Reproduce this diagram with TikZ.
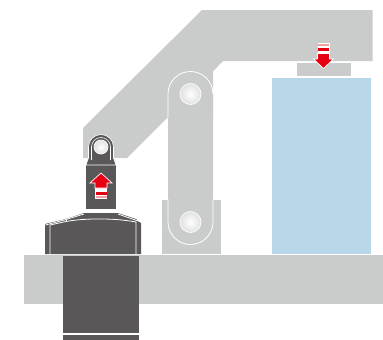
\documentclass[tikz,border=0pt]{standalone}
\usepackage{xcolor}
\usetikzlibrary{math}
\definecolor{mygray}{RGB}{202,204,203}
\definecolor{mydark}{RGB}{89,87,87}
\definecolor{myice}{RGB}{184,215,232}
\definecolor{myred}{RGB}{230,0,18}
\definecolor{mypink}{RGB}{244,160,160}
\tikzset{
pin/.style={draw=white,line width=0.7,inner color=white,outer color=mygray!60},
cut/.style={draw=white,line width=0.8},
}
\begin{document}
\begin{tikzpicture}[x=1pt,y=-1pt]
\tikzmath{
\Rlink=22.5;
\Rpin=10.5;
\xlink=190.5;
}
\useasboundingbox (0,0) rectangle (383,340);

% arm and table
\fill[color=mygray] (202,10) -- (372.5,10) -- (372.5,61) -- (223,61) -- (213,71.5) -- (213,117) -- (168,117) -- (127,158) -- (83,158) -- (83,128) -- cycle;
\fill[color=mygray] (24,255) rectangle (383,304);

% work
\fill[color=myice] (272,78) rectangle (371,254);
\filldraw[color=mygray,draw=white,line width=0.8] (296,62) rectangle (351,76.5);

% link and base
\filldraw[color=mygray,draw=white,line width=0.6] (161,199) rectangle (221,254);
\fill[color=mygray] (\xlink-\Rlink,94) arc (180:360:\Rlink) -- (\xlink+\Rlink,222) arc (0:180:\Rlink) -- cycle;
\draw[cut] (\xlink-\Rlink,117) -- (\xlink-\Rlink,94) arc (180:360:\Rlink);
\draw[cut] (\xlink-\Rlink,199) -- (\xlink-\Rlink,222) arc (180:0:\Rlink) -- (\xlink+\Rlink,199);
\draw[pin] (\xlink,94) circle (\Rpin);
\draw[pin] (\xlink,222) circle (\Rpin);

% cylinder
\fill[color=mydark] (63,256) rectangle (139,333);
\fill[color=mydark] (63,335) rectangle (139,340);
\fill[color=mydark] (45,254) -- (45,224) -- (66,219) -- (84,213) -- (118,213) -- (136,219) -- (141,223) -- (141,254) -- cycle;
\draw[cut] (45.5,225) -- (66,219.5) -- (84,214);
\draw[cut] (50,254) -- (50,225) -- (66,221.5) .. controls (85,218) and (115,218) .. (136,222) -- (136,254);
\draw[cut] (66,219.5) -- (66,221.5);
\draw[cut] (118,214) -- (141,222);

% rod and clevis
\fill[color=mydark] (86,165) rectangle (116,209);
\filldraw[color=mydark,draw=white,line width=0.6] (86,165) -- (88.5,158) -- (88.5,147) arc (180:360:12.5) -- (113.5,158) -- (116,165) -- cycle;
\draw[white,line width=0.6] (91.5,160) -- (91.5,147) arc (180:360:9.5) -- (110.5,160);
\draw[pin] (101,147) circle (7);

% up arrow
\begin{scope}[shift={(101,173)}]
\fill[white] (-6,13) rectangle (6,26);
\filldraw[color=myred,draw=white,line width=0.7] (0,0) -- (11,10) -- (6,10) -- (6,15) -- (-6,15) -- (-6,10) -- (-11,10) -- cycle;
\fill[color=myred] (-5.5,18.5) rectangle (5.5,21.5);
\fill[color=mypink] (-5.5,23) rectangle (5.5,25);
\end{scope}

% down arrow
\begin{scope}[shift={(323.5,68.5)},yscale=-1]
\fill[white] (-6,14) rectangle (6,25.5);
\filldraw[color=myred,draw=white,line width=0.7] (0,0) -- (10,9.5) -- (6,9.5) -- (6,15) -- (-6,15) -- (-6,9.5) -- (-10,9.5) -- cycle;
\fill[color=myred] (-5.5,17.5) rectangle (5.5,21);
\fill[color=mypink] (-5.5,22.5) rectangle (5.5,25);
\end{scope}
\end{tikzpicture}
\end{document}
